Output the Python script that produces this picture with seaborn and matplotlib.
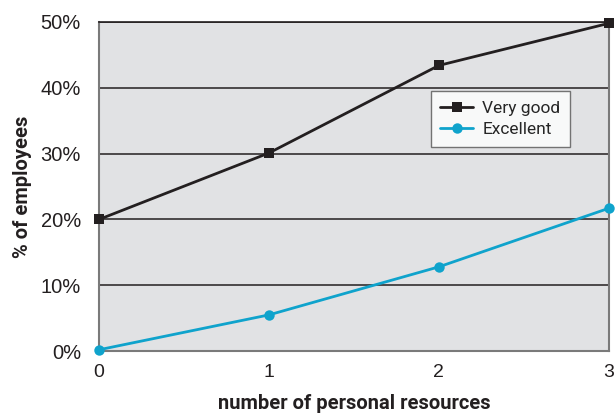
import matplotlib
matplotlib.use("Agg")
import matplotlib.pyplot as plt
import seaborn as sns
import pandas as pd
from matplotlib.ticker import FuncFormatter

resources = [0, 1, 2, 3]
very_good = [20.0, 30.1, 43.4, 49.8]
excellent = [0.2, 5.5, 12.8, 21.7]
series_names = ["Very good", "Excellent"]
y_ticks = [0, 10, 20, 30, 40, 50]

df = pd.DataFrame({
    "resources": resources * 2,
    "pct": very_good + excellent,
    "rating": [series_names[0]] * 4 + [series_names[1]] * 4,
})

sns.set_style("white")
plt.rcParams["font.family"] = ["Liberation Sans", "DejaVu Sans"]
label_font = ["Roboto", "DejaVu Sans"]

ink = "#231f20"
fig = plt.figure(figsize=(6.16, 4.15), dpi=100)
ax = fig.add_axes([0.1607, 0.154, 0.8277, 0.793])
ax.set_facecolor("#e1e2e4")

palette = {series_names[0]: ink, series_names[1]: "#0fa3cc"}
sns.lineplot(data=df, x="resources", y="pct", hue="rating", style="rating",
             markers={series_names[0]: "s", series_names[1]: "o"}, dashes=False,
             palette=palette, linewidth=2, markersize=7.5, markeredgewidth=0,
             ax=ax, clip_on=False, zorder=5)

ax.set_xlim(0, 3)
ax.set_ylim(0, 50)
ax.set_xticks(resources)
ax.set_yticks(y_ticks)
ax.yaxis.set_major_formatter(FuncFormatter(lambda v, p: f"{int(v)}%"))
for y in y_ticks[1:]:
    ax.axhline(y, color=ink, linewidth=1.1, zorder=1)

for side in ["left", "right", "bottom"]:
    ax.spines[side].set_color("#7a7a7a")
    ax.spines[side].set_linewidth(1.5)
ax.spines["top"].set_color(ink)
ax.spines["top"].set_linewidth(1.2)

ax.tick_params(axis="x", direction="in", length=6, width=1.2, color="#7a7a7a",
               labelsize=14, pad=9, labelcolor=ink)
ax.tick_params(axis="y", length=0, labelsize=14.5, pad=13, labelcolor=ink)

ax.set_xlabel("number of personal resources", fontsize=14.5, fontweight="bold",
              family=label_font, color=ink, labelpad=10)
ax.set_ylabel("% of employees", fontsize=14.5, fontweight="bold",
              family=label_font, color=ink, labelpad=6)

leg = ax.legend(loc="upper left", bbox_to_anchor=(0.651, 0.79), frameon=True,
                fancybox=False, prop={"family": label_font, "size": 12.5},
                handlelength=1.9, borderpad=0.55, labelspacing=0.35,
                handletextpad=0.5, borderaxespad=0)
leg.get_frame().set_edgecolor("#555555")
leg.get_frame().set_facecolor("white")
leg.get_frame().set_linewidth(1.0)
leg.set_title(None)

fig.savefig("out.png", dpi=100)
